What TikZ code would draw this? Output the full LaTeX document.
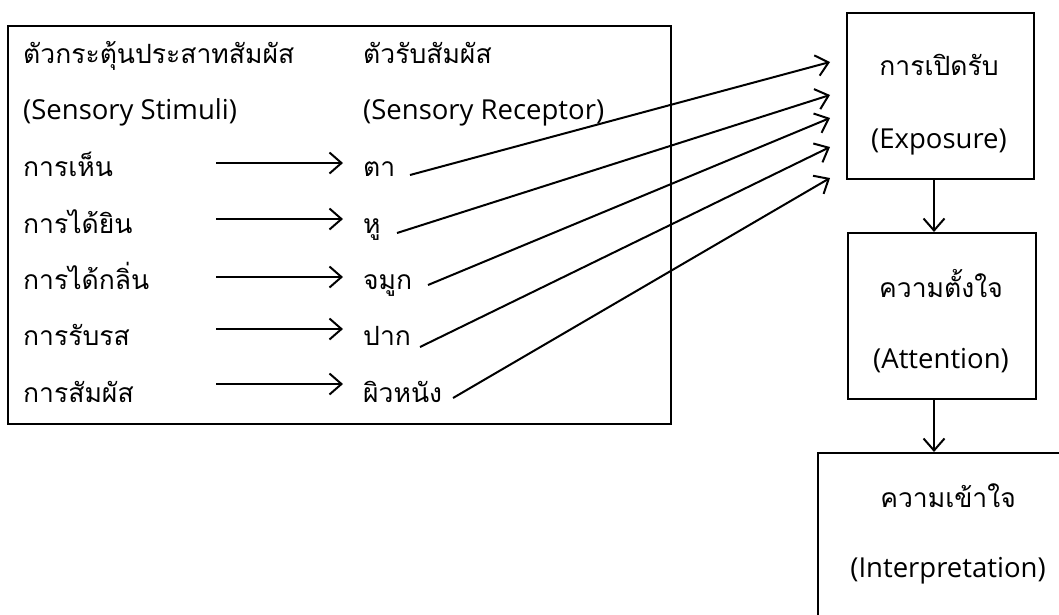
\documentclass[tikz,border=0pt]{standalone}
\usepackage{fontspec}
\setmainfont{Open Sans}
\newfontfamily\thaifnt[Script=Thai]{Loma}
\usetikzlibrary{arrows.meta}
\begin{document}
\begin{tikzpicture}[x=1pt,y=-1pt,
  arr/.style={line width=2pt,-{Straight Barb[length=12pt,width=21pt,line width=2pt]}},
  box/.style={draw,line width=2pt,inner sep=0pt},
  th/.style={font=\thaifnt\fontsize{26.5}{30}\selectfont,inner sep=0pt},
  en/.style={font=\fontsize{27.5}{32}\selectfont,inner sep=0pt}]
\useasboundingbox (0,0) rectangle (1059,614);
\clip (0,0) rectangle (1059,614);
\fill[white] (0,0) rectangle (1059,614);

% left frame
\node[box,anchor=north west,minimum width=663pt,minimum height=398pt] (frame) at (7,25) {};
\node[th,anchor=base west] (hs) at (23,63) {ตัวกระตุ้นประสาทสัมผัส};
\node[en,anchor=base west] (hse) at (23,119.5) {(Sensory Stimuli)};
\node[th,anchor=base west] (hr) at (363,63) {ตัวรับสัมผัส};
\node[en,anchor=base west] (hre) at (363,119.5) {(Sensory Receptor)};

\node[th,anchor=base west] (s1) at (23,176) {การเห็น};
\node[th,anchor=base west] (s2) at (23,233) {การได้ยิน};
\node[th,anchor=base west] (s3) at (23,289) {การได้กลิ่น};
\node[th,anchor=base west] (s4) at (23,345) {การรับรส};
\node[th,anchor=base west] (s5) at (23,402) {การสัมผัส};

\node[th,anchor=base west] (r1) at (363,176) {ตา};
\node[th,anchor=base west] (r2) at (363,233) {หู};
\node[th,anchor=base west] (r3) at (363,289) {จมูก};
\node[th,anchor=base west] (r4) at (363,345) {ปาก};
\node[th,anchor=base west] (r5) at (363,402) {ผิวหนัง};

% horizontal arrows
\coordinate (a1) at (216,163);
\coordinate (a2) at (216,219);
\coordinate (a3) at (216,277);
\coordinate (a4) at (216,329);
\coordinate (a5) at (216,384);
\foreach \i in {1,...,5}{
  \draw[arr] (a\i) -- ([xshift=-20pt]r\i.west |- a\i);
}

% right boxes
\node[box,anchor=north west,minimum width=187pt,minimum height=166pt] (ex) at (846,12) {};
\node[th,anchor=base] (ext) at (939,75) {การเปิดรับ};
\node[en,anchor=base] (exe) at (939,148) {(Exposure)};

\node[box,anchor=north west,minimum width=188pt,minimum height=166pt] (at) at (847,232) {};
\node[th,anchor=base] (att) at (941,297) {ความตั้งใจ};
\node[en,anchor=base] (ate) at (941,368) {(Attention)};

\node[box,anchor=north west,minimum width=263pt,minimum height=200pt] (ip) at (817,452) {};
\node[th,anchor=base] (ipt) at (948,507) {ความเข้าใจ};
\node[en,anchor=base] (ipe) at (948,577) {(Interpretation)};

% diagonal connectors
\coordinate (d1) at (410,175);
\coordinate (d2) at (397,233);
\coordinate (d3) at (428,285);
\coordinate (d4) at (420,347);
\coordinate (d5) at (453,398);
\coordinate (e1) at (830,62);
\coordinate (e2) at (830,95);
\coordinate (e3) at (830,118);
\coordinate (e4) at (830,147);
\coordinate (e5) at (830,178);
\foreach \i in {1,...,5}{
  \draw[arr] (d\i) -- (e\i);
}

% vertical arrows
\draw[arr] ([xshift=-6.5pt]ex.south) -- ([xshift=-6.5pt]ex.south |- at.north);
\draw[arr] ([xshift=-6.5pt]ex.south |- at.south) -- ([xshift=-6.5pt]ex.south |- ip.north);
\end{tikzpicture}
\end{document}
